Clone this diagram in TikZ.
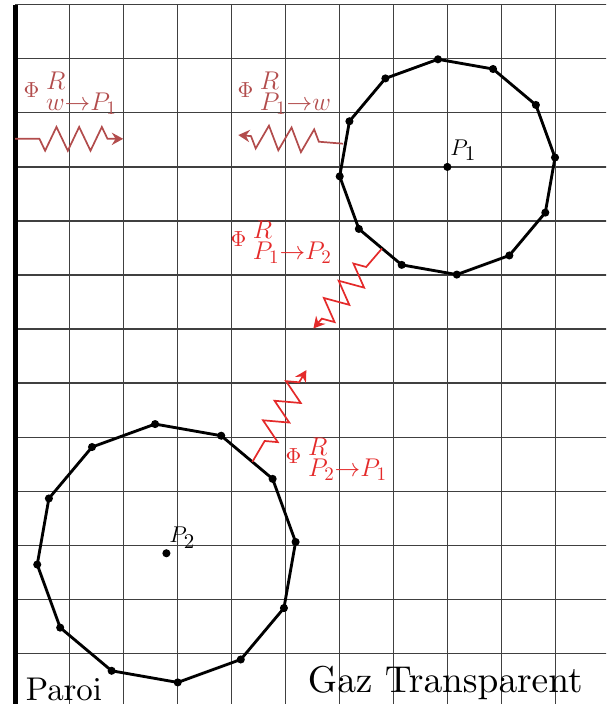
\RequirePackage{fix-cm}
\documentclass[tikz,border=0pt]{standalone}
\usepackage{amsmath}
\usepackage{tikz}
\usetikzlibrary{arrows.meta,calc,decorations.pathmorphing}
\definecolor{FluxBrown}{HTML}{B24C4C}
\definecolor{FluxRed}{HTML}{E42A2A}
\DeclareMathSizes{12}{12}{11}{8.5}
\DeclareMathSizes{13}{11.5}{13.5}{10}
\font\paroifont=cmr10 at 17.3pt
\font\gazfont=cmr10 at 19.7pt

\begin{document}
\begin{tikzpicture}[
  gridline/.style={black!75,line width=0.6pt},
  wall/.style={line width=2.6pt},
  facet/.style={line width=1.5pt,line join=round},
  flux/.style={-{Stealth[length=6pt,width=6.5pt,inset=2pt]},line width=0.9pt,decorate,
    decoration={zigzag,mirror,amplitude=0.22cm,segment length=0.42cm,pre length=0.45cm,post length=0.2cm}},
  lbl/.style={font=\fontsize{12}{14}\selectfont,inner sep=0pt},
  flbl/.style={font=\fontsize{13}{15}\selectfont,inner sep=0pt,anchor=west}
]
  \useasboundingbox (-0.28,0.06) rectangle (10.94,13.09);
  \clip (-0.28,0.06) rectangle (10.94,13.09);
  % grid and wall
  \draw[gridline] (0,0) grid (11,13);
  \draw[wall] (0,0) -- (0,13);
  % particles
  \coordinate (P1) at (8,10);
  \coordinate (P2) at (2.8,2.85);
  \foreach \k in {0,...,11}{
    \coordinate (a\k) at ($(P1)+(5+30*\k:2)$);
    \coordinate (b\k) at ($(P2)+(5+30*\k:2.4)$);
  }
  \draw[facet] (a0) \foreach \k in {1,...,11}{ -- (a\k)} -- cycle;
  \draw[facet] (b0) \foreach \k in {1,...,11}{ -- (b\k)} -- cycle;
  \foreach \k in {0,...,11}{
    \fill (a\k) circle (0.075);
    \fill (b\k) circle (0.075);
  }
  \fill (P1) circle (0.075);
  \fill (P2) circle (0.075);
  \node[lbl,anchor=base west] (p1name) at (8.05,10.22) {$P_1$};
  \node[lbl,anchor=base west] (p2name) at (2.85,3.05) {$P_2$};
  % radiative fluxes
  \coordinate (w1s) at (0,10.52);
  \coordinate (w1e) at (2,10.52);
  \coordinate (p1ws) at (6.07,10.43);
  \coordinate (p1we) at (4.13,10.59);
  \coordinate (p12s) at (6.79,8.49);
  \coordinate (p12e) at (5.52,7.01);
  \coordinate (p21s) at (4.39,4.54);
  \coordinate (p21e) at (5.39,6.24);
  \draw[flux,FluxBrown] (w1s) -- (w1e);
  \draw[flux,FluxBrown] (p1ws) -- (p1we);
  \draw[flux,FluxRed] (p12s) -- (p12e);
  \draw[flux,FluxRed] (p21s) -- (p21e);
  \node[flbl,text=FluxBrown] (fw1) at (0.15,11.36) {$\Phi^{\hspace{3.5pt}R}_{\hspace{3.5pt}w\rightarrow P_1}$};
  \node[flbl,text=FluxBrown] (f1w) at (4.11,11.37) {$\Phi^{\hspace{3.5pt}R}_{\hspace{3.5pt}P_1\rightarrow w}$};
  \node[flbl,text=FluxRed] (f12) at (3.98,8.6) {$\Phi^{\hspace{3.5pt}R}_{\hspace{3.5pt}P_1\rightarrow P_2}$};
  \node[flbl,text=FluxRed] (f21) at (5.0,4.59) {$\Phi^{\hspace{3.5pt}R}_{\hspace{3.5pt}P_2\rightarrow P_1}$};
  % texts
  \node[inner sep=0pt,anchor=base west,font=\paroifont] (paroi) at (0.19,0.13) {Paroi};
  \node[inner sep=0pt,anchor=base west,font=\gazfont] (gaz) at (5.41,0.28) {Gaz Transparent};
\end{tikzpicture}
\end{document}
